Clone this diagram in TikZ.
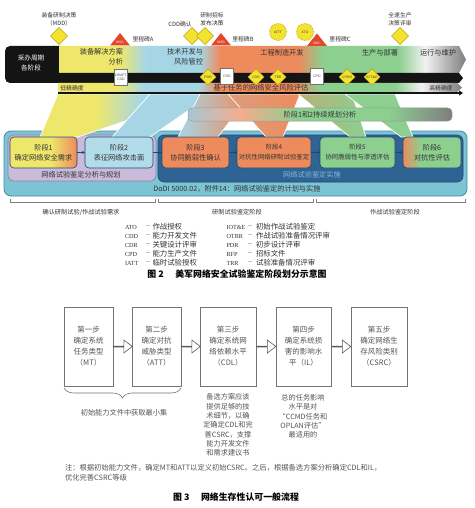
\documentclass[tikz,border=0pt]{standalone}
\usepackage{fontspec}
\setmainfont{Liberation Serif}
\newfontfamily\cjk{Noto Sans CJK SC}
\newfontfamily\latser{Liberation Serif}
\usetikzlibrary{shapes.arrows,shapes.geometric,decorations.pathreplacing,calc,arrows.meta}

\definecolor{cYel}{HTML}{EEE76C}
\definecolor{cBlue}{HTML}{A6D6E6}
\definecolor{cOra}{HTML}{EE8B5C}
\definecolor{cGre}{HTML}{8CCF8F}
\definecolor{cWhi}{HTML}{F2F2F2}
\definecolor{cGry}{HTML}{7E7E7E}
\definecolor{cRed}{HTML}{E2462B}
\definecolor{cDia}{HTML}{F3E22E}
\definecolor{cDiaB}{HTML}{B9A51A}
\definecolor{cOut}{HTML}{7CC3D3}
\definecolor{cOutB}{HTML}{3F8FAD}
\definecolor{cLav}{HTML}{CABBDA}
\definecolor{cLavB}{HTML}{8E7FAE}
\definecolor{cNavy}{HTML}{2F6393}
\definecolor{cNavyB}{HTML}{1F4870}
\definecolor{cNavyT}{HTML}{86B8DA}
\definecolor{cTxt}{HTML}{333333}
\definecolor{cG3}{HTML}{555555}
\definecolor{cBG}{HTML}{A8C6D2}

\pgfdeclarehorizontalshading{bandshade}{100bp}{color(0bp)=(cYel); color(25bp)=(cYel); color(32.5bp)=(cYel); color(35.6bp)=(cBlue); color(42.3bp)=(cBlue); color(44.8bp)=(cOra); color(54.4bp)=(cOra); color(57.3bp)=(cGre); color(66.7bp)=(cGre); color(70bp)=(cWhi); color(75bp)=(cGry); color(100bp)=(cGry)}
\pgfdeclarehorizontalshading{fAshade}{100bp}{color(0bp)=(cYel); color(25bp)=(cYel); color(42bp)=(cYel); color(56bp)=(cBlue); color(66bp)=(cBlue); color(75bp)=(cOra); color(100bp)=(cOra)}
\pgfdeclarehorizontalshading{barshade}{100bp}{color(0bp)=(cBG); color(25bp)=(cBG); color(35bp)=(cOra!70!white); color(46bp)=(cGre); color(63bp)=(cGre); color(75bp)=(cGry); color(100bp)=(cGry)}
\pgfdeclarehorizontalshading{sAshade}{100bp}{color(0bp)=(cYel); color(25bp)=(cYel); color(55bp)=(cYel); color(75bp)=(cOra); color(100bp)=(cOra)}
\pgfdeclarehorizontalshading{sFshade}{100bp}{color(0bp)=(cOra); color(25bp)=(cOra); color(40bp)=(cGre); color(75bp)=(cGre); color(100bp)=(cGre)}

\tikzset{
  fS/.style={font=\cjk\fontsize{5.8}{7.8}\selectfont},
  fB/.style={font=\cjk\fontsize{7.2}{10}\selectfont},
  fT/.style={font=\sffamily\fontsize{3.4}{3.9}\selectfont},
  diam/.style={diamond, aspect=1, fill=cDia, draw=cDiaB, line width=0.4, minimum size=17, fT},
  docic/.style={rectangle, fill=white, draw=black!55, line width=0.4, minimum width=13, minimum height=16, fT, align=center},
  circm/.style={circle, fill=cDia, draw=cDiaB, densely dotted, line width=0.7, minimum size=17, fT},
  stagebox/.style={rounded corners=4, draw=cNavyB, line width=0.6, minimum height=31, align=center, font=\cjk\fontsize{7.2}{10}\selectfont},
  funnel/.style={draw=white, line width=0.7},
  stagearr/.style={-{Stealth[length=3pt,width=3pt]}, draw=cNavyB, line width=0.6},
  brk/.style={draw=black!50, line width=0.5},
  legA/.style={anchor=west, font=\latser\fontsize{6.2}{8}\selectfont},
  legD/.style={font=\latser\fontsize{6.4}{8}\selectfont},
  legT/.style={anchor=west, font=\cjk\fontsize{7.4}{8}\selectfont},
  f3box/.style={draw=black!55, line width=0.6, fill=white, minimum height=79, align=center, font=\cjk\fontsize{7.5}{11}\selectfont, text=cG3},
  f3note/.style={align=center, font=\cjk\fontsize{7.2}{9.3}\selectfont, text=cG3},
  harrow/.style={single arrow, draw=black!65, fill=white, line width=0.6, minimum height=19, minimum width=13, single arrow head extend=4, single arrow tip angle=75},
  capt/.style={font=\cjk\bfseries\fontsize{8.9}{10}\selectfont, text=black},
}

\begin{document}
\begin{tikzpicture}[x=1pt,y=-1pt, every node/.style={inner sep=0pt, outer sep=0pt, text=cTxt}]
\useasboundingbox (0,0) rectangle (474,508);
\fill[white] (0,0) rectangle (474,508);

% ---------- outer containers ----------
\draw[fill=cOut, draw=cOutB, line width=0.8, rounded corners=7] (4,131) rectangle (467,196);
\draw[fill=cLav, draw=cLavB, line width=0.6, rounded corners=6] (8,135) rectangle (156,181);
\draw[fill=cNavy, draw=cNavyB, line width=0.6, rounded corners=6] (158,135) rectangle (463,182);
\node[fB] (lavlab) at (81,175) {网络试验鉴定分析与规划};
\node[fB, text=cNavyT] (navlab) at (312,175) {网络试验鉴定实施};
\node[fB] (dodi) at (237,188.5) {DoDI 5000.02，附件14：网络试验鉴定的计划与实施};

% ---------- funnels ----------
\shade[shading=fAshade, funnel] (58,94) -- (205,94) -- (78,137) -- (40,137) -- cycle;
\draw[fill=cBlue, funnel] (150,94) -- (212,94) -- (150,137) -- (112,137) -- cycle;
\shade[left color=cBlue, right color=cOra, funnel] (200,94) -- (250,94) -- (218,137) -- (178,137) -- cycle;
\shade[left color=cOra!75!cBlue, right color=cOra, funnel] (228,94) -- (300,94) -- (283,137) -- (266,137) -- cycle;
\shade[left color=cOra!45!cGre, right color=cGre, funnel] (298,94) -- (352,94) -- (366,137) -- (350,137) -- cycle;
\draw[fill=cGre, funnel] (345,94) -- (395,94) -- (413,137) -- (401,137) -- cycle;

% ---------- stage 1&2 continuous bar ----------
\shadedraw[shading=barshade, draw=black!40, line width=0.5, rounded corners=4] (188,108) rectangle (452,121);
\node[fB] (bar12) at (320,114.5) {阶段1和2持续规划分析};

% ---------- stage boxes ----------
\node[stagebox, minimum width=67, shading=sAshade, shade] (s1) at (43.5,152.5) {阶段1\\确定网络安全需求};
\node[stagebox, minimum width=68, fill=cBlue!85!white] (s2) at (119,152.5) {阶段2\\表征网络攻击面};
\node[stagebox, minimum width=67, fill=cOra] (s3) at (195.5,152.5) {阶段3\\协同脆弱性确认};
\node[stagebox, minimum width=74, fill=cOra, font=\cjk\fontsize{6.4}{10}\selectfont] (s4) at (274,152.5) {阶段4\\对抗性网络研制试验鉴定};
\node[stagebox, minimum width=75, fill=cGre, font=\cjk\fontsize{6.4}{10}\selectfont] (s5) at (357.5,152.5) {阶段5\\协同脆弱性与渗透评估};
\node[stagebox, minimum width=58, shading=sFshade, shade] (s6) at (432,152.5) {阶段6\\对抗性评估};
\draw[stagearr] (s1.east) -- (s2.west);
\draw[stagearr] (s2.east) -- (s3.west);
\draw[stagearr] (s3.east) -- (s4.west);
\draw[stagearr] (s4.east) -- (s5.west);
\draw[stagearr] (s5.east) -- (s6.west);

% ---------- main band ----------
\fill[black!92, rounded corners=5] (5,46) rectangle (66,83);
\shade[shading=bandshade] (59,46) -- (459,46) -- (466,59.5) -- (459,73) -- (59,73) -- cycle;
\fill[black!92] (55,73) -- (459,73) -- (463,78) -- (459,83) -- (55,83) -- cycle;
\shade[shading=bandshade] (58,83) -- (457,83) -- (462,87.5) -- (457,92) -- (58,92) -- cycle;
\draw[black!92, line width=2, -{Triangle[length=4pt,width=5pt]}] (58,93) -- (463,93);

\node[fS, text=white, font=\cjk\fontsize{6.6}{10}\selectfont, align=center] (acq) at (31,63.5) {采办周期\\各阶段};
\node[anchor=east, align=right, font=\cjk\fontsize{7.2}{10}\selectfont] (ph1) at (123,57) {装备解决方案\\分析};
\node[anchor=east, align=right, font=\cjk\fontsize{7.2}{10}\selectfont] (ph2) at (203,57) {技术开发与\\风险管控};
\node[font=\cjk\fontsize{7.2}{10}\selectfont] (ph3) at (282,53) {工程制造开发};
\node[font=\cjk\fontsize{7.2}{10}\selectfont] (ph4) at (380,53) {生产与部署};
\node[font=\cjk\fontsize{7.2}{10}\selectfont] (ph5) at (438,53) {运行与维护};

\node[fS] (lowp) at (72,88) {低精确度};
\node[font=\cjk\fontsize{7.3}{9}\selectfont] (risk) at (261,88) {基于任务的网络安全风险评估};
\node[fS] (highp) at (441,88) {高精确度};

% icons in black bar
\node[docic] (dcdd) at (121,77) {DRAFT\\CDD};
\node[diam, minimum size=16] (pdr) at (208,77) {PDR};
\node[docic] (cdd) at (227,76) {CDD};
\node[diam, minimum size=16] (cdr) at (256,77) {CDR};
\node[diam, minimum size=16] (trr) at (278,77) {TRR};
\node[docic] (cpd) at (317,76) {CPD};
\node[diam, minimum size=16] (otrr) at (347,77) {OTRR};
\node[diam, minimum size=16] (iote) at (372,77) {IOT\&E};

% ---------- top markers ----------
\node[diam] (mdd) at (59,36) {};
\node[diam] (cdda) at (192,36) {};
\node[diam] (cddb) at (205,36) {};
\node[diam] (frp) at (400,36) {};
\node[circm] (iatt) at (278,32) {IATT};
\node[circm] (ato) at (305,32) {ATO};

\coordinate (msA) at (120,39.5);
\coordinate (msB) at (221,39.5);
\coordinate (msC) at (317,40);
\foreach \m in {msA,msB,msC}{
  \fill[cRed] ($(\m)+(-10,6)$) -- ($(\m)+(0,-6.5)$) -- ($(\m)+(10,6)$) -- cycle;
}
\node[fT, text=white] (tA) at (120,42.5) {MSA};
\node[fT, text=white] (tB) at (221,42.5) {MSB};
\node[fT, text=white] (tC) at (317,43) {MSC};

\node[fS] (lA) at (143,39) {里程碑A};
\node[fS] (lB) at (243,39) {里程碑B};
\node[fS] (lC) at (340,39.5) {里程碑C};
\node[fS, align=center] (lmdd) at (59,19) {装备研制决策\\（MDD）};
\node[fS] (lcdd) at (180,24) {CDD确认};
\node[fS, align=center] (lrfp) at (212,19) {研制招标\\发布决策};
\node[fS, align=center] (lfrp) at (400,19) {全速生产\\决策评审};

% ---------- brackets ----------
\draw[brk] (10,199) -- (10,202) -- (155,202) -- (155,199);
\draw[brk] (158,199) -- (158,202) -- (313,202) -- (313,199);
\draw[brk] (316,199) -- (316,202) -- (465,202) -- (465,199);
\node[fS, font=\cjk\fontsize{6.2}{8}\selectfont] (br1) at (81,212) {确认研制试验/作战试验需求};
\node[fS, font=\cjk\fontsize{6.2}{8}\selectfont] (br2) at (237,212) {研制试验鉴定阶段};
\node[fS, font=\cjk\fontsize{6.2}{8}\selectfont] (br3) at (395,212) {作战试验鉴定阶段};

% ---------- legend ----------
\foreach \y/\a/\t [count=\i] in {227/ATO/作战授权, 236/CDD/能力开发文件, 245/CDR/关键设计评审, 254/CPD/能力生产文件, 263/IATT/临时试验授权}{
  \node[legA] (la\i) at (125,\y) {\a};
  \node[legD] (ld\i) at (148,\y) {–};
  \node[legT] (lt\i) at (152.5,\y) {\t};
}
\foreach \y/\a/\t [count=\i] in {227/IOT\&E/初始作战试验鉴定, 236/OTRR/作战试验准备情况评审, 245/PDR/初步设计评审, 254/RFP/招标文件, 263/TRR/试验准备情况评审}{
  \node[legA] (ra\i) at (226.5,\y) {\a};
  \node[legD] (rd\i) at (250,\y) {–};
  \node[legT] (rt\i) at (256,\y) {\t};
}
\node[capt] (cap2) at (237,274) {图 2\hspace{1.3em}美军网络安全试验鉴定阶段划分示意图};

% ---------- figure 3 ----------
\node[f3box, minimum width=49] (b1) at (88.5,346.5) {第一步\\确定系统\\任务类型\\（MT）};
\node[f3box, minimum width=49] (b2) at (156.5,346.5) {第二步\\确定对抗\\威胁类型\\（ATT）};
\node[f3box, minimum width=56] (b3) at (228,346.5) {第三步\\确定系统网\\络依赖水平\\（CDL）};
\node[f3box, minimum width=55] (b4) at (303.5,346.5) {第四步\\确定系统损\\害的影响水\\平（IL）};
\node[f3box, minimum width=56] (b5) at (379,346.5) {第五步\\确定网络生\\存风险类别\\（CSRC）};
\node[harrow] (a12) at ($(b1.east)!0.5!(b2.west)$) {};
\node[harrow] (a23) at ($(b2.east)!0.5!(b3.west)$) {};
\node[harrow] (a34) at ($(b3.east)!0.5!(b4.west)$) {};
\node[harrow] (a45) at ($(b4.east)!0.5!(b5.west)$) {};

\draw[decorate, decoration={brace, amplitude=10, mirror}, draw=black!55, line width=0.6] ($(b1.south west)+(0,2)$) -- ($(b2.south east)+(0,2)$);
\node[f3note] (minset) at (124,413) {初始能力文件中获取最小集};

\node[f3note] (n3) at (228,425) {备选方案应该\\提供足够的技\\术细节，以确\\定确定CDL和完\\善CSRC，支撑\\能力开发文件\\和需求建议书};
\node[f3note] (n4) at (303,416.5) {总的任务影响\\水平是对\\“CCMD任务和\\OPLAN评估”\\最适用的};

\node[anchor=west, font=\cjk\fontsize{7.3}{9}\selectfont, text=cG3] (note1) at (65,468) {注：根据初始能力文件，确定MT和ATT以定义初始CSRC。之后，根据备选方案分析确定CDL和IL，};
\node[anchor=west, font=\cjk\fontsize{7.3}{9}\selectfont, text=cG3] (note2) at (65,478) {优化完善CSRC等级};

\node[capt] (cap3) at (236,497) {图 3\hspace{1.3em}网络生存性认可一般流程};
\end{tikzpicture}
\end{document}
